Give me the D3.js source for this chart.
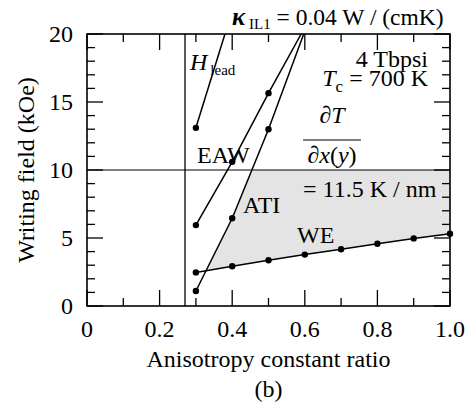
<!DOCTYPE html>
<html>
<head>
<meta charset="utf-8">
<script src="https://cdn.jsdelivr.net/npm/d3@7"></script>
<style>
  body { margin: 0; background: #fff; }
</style>
</head>
<body>
<div id="chart"></div>
<script>
const xTicks = [0, 0.2, 0.4, 0.6, 0.8, 1.0];
const xTickLabels = ['0', '0.2', '0.4', '0.6', '0.8', '1.0'];
const yTicks = [0, 5, 10, 15, 20];

// curves: measured points (dots) and the drawn line (runs past the top edge)
const headDots = [[0.3, 13.1]];
const headLine = [[0.3, 13.1], [0.38, 20]];
const eawDots = [[0.3, 5.95], [0.4, 10.6], [0.5, 15.65]];
const eawLine = [[0.3, 5.95], [0.4, 10.6], [0.5, 15.65], [0.59, 20]];
const atiDots = [[0.3, 1.1], [0.4, 6.45], [0.5, 13.0]];
const atiLine = [[0.3, 1.1], [0.4, 6.45], [0.5, 13.0], [0.597, 20]];
const weDots = [[0.3, 2.47], [0.4, 2.92], [0.5, 3.36], [0.6, 3.78], [0.7, 4.17], [0.8, 4.58], [0.9, 4.97], [1.0, 5.32]];
const vLine = 0.27;
const hLine = 10;

const W = 473, H = 403;
const M = { left: 87, top: 34, right: 23, bottom: 97 };
const iw = W - M.left - M.right, ih = H - M.top - M.bottom;
const FS = 24;

const svg = d3.select('#chart').append('svg').attr('width', W).attr('height', H);
const x = d3.scaleLinear().domain([0, 1]).range([M.left, M.left + iw]);
const y = d3.scaleLinear().domain([0, 20]).range([M.top + ih, M.top]);

svg.append('clipPath').attr('id', 'clip').append('rect')
  .attr('x', M.left).attr('y', M.top).attr('width', iw).attr('height', ih);
const plot = svg.append('g').attr('clip-path', 'url(#clip)');

// shaded window: right of ATI, above WE, below hLine
function interp(pts, xv) {
  for (let i = 0; i < pts.length - 1; i++) {
    const [x0, y0] = pts[i], [x1, y1] = pts[i + 1];
    if (xv >= x0 && xv <= x1) return y0 + (y1 - y0) * (xv - x0) / (x1 - x0);
  }
  return NaN;
}
function crossX(fn, lo, hi) {
  for (let k = 0; k < 60; k++) {
    const mid = (lo + hi) / 2;
    if (fn(lo) * fn(mid) <= 0) hi = mid; else lo = mid;
  }
  return (lo + hi) / 2;
}
const xStart = crossX(v => interp(atiLine, v) - interp(weDots, v), 0.3, 0.4);
const xTop = crossX(v => interp(atiLine, v) - hLine, 0.3, 0.597);
const poly = [[xStart, interp(weDots, xStart)]];
atiLine.forEach(p => { if (p[0] > xStart && p[0] < xTop) poly.push(p); });
poly.push([xTop, hLine], [1, hLine]);
weDots.slice().reverse().forEach(p => { if (p[0] > xStart) poly.push(p); });
plot.append('path').datum(poly)
  .attr('d', d3.line().x(d => x(d[0])).y(d => y(d[1])))
  .attr('fill', '#e4e4e4').attr('stroke', 'none');

// reference lines
plot.append('line').attr('x1', x(0)).attr('x2', x(1)).attr('y1', y(hLine)).attr('y2', y(hLine))
  .attr('stroke', '#000').attr('stroke-width', 1);
plot.append('line').attr('x1', x(vLine)).attr('x2', x(vLine)).attr('y1', y(0)).attr('y2', y(20))
  .attr('stroke', '#000').attr('stroke-width', 1.3);

const line = d3.line().x(d => x(d[0])).y(d => y(d[1]));
[headLine, eawLine, atiLine, weDots].forEach(s => {
  plot.append('path').datum(s).attr('d', line)
    .attr('fill', 'none').attr('stroke', '#000').attr('stroke-width', 1.5);
});
[].concat(headDots, eawDots, atiDots, weDots).forEach(d => {
  svg.append('circle').attr('cx', x(d[0])).attr('cy', y(d[1])).attr('r', 3.2).attr('fill', '#000');
});

// axes with inward ticks on all four sides
const minorX = d3.range(0, 11).map(i => i / 10), minorY = d3.range(0, 21);
const ax = svg.append('g').attr('stroke', '#000').attr('stroke-width', 1.3);
minorX.forEach((v, i) => {
  const len = i % 2 === 0 ? 16 : 8;
  ax.append('line').attr('x1', x(v)).attr('x2', x(v)).attr('y1', y(0)).attr('y2', y(0) - len);
  ax.append('line').attr('x1', x(v)).attr('x2', x(v)).attr('y1', y(20)).attr('y2', y(20) + len);
});
minorY.forEach(v => {
  const len = v % 5 === 0 ? 16 : 8;
  ax.append('line').attr('x1', x(0)).attr('x2', x(0) + len).attr('y1', y(v)).attr('y2', y(v));
  ax.append('line').attr('x1', x(1)).attr('x2', x(1) - len).attr('y1', y(v)).attr('y2', y(v));
});
svg.append('rect').attr('x', M.left).attr('y', M.top).attr('width', iw).attr('height', ih)
  .attr('fill', 'none').attr('stroke', '#000').attr('stroke-width', 1.6);

xTicks.forEach((v, i) => {
  svg.append('text').attr('x', x(v)).attr('y', y(0) + 31).attr('text-anchor', 'middle')
    .attr('font-size', FS).text(xTickLabels[i]);
});
yTicks.forEach(v => {
  svg.append('text').attr('x', M.left - 14).attr('y', y(v) + 8).attr('text-anchor', 'end')
    .attr('font-size', FS).text(v);
});

svg.append('text').attr('x', x(0.5)).attr('y', 367).attr('text-anchor', 'middle')
  .attr('font-size', FS).text('Anisotropy constant ratio');
svg.append('text').attr('x', x(0.5)).attr('y', 397).attr('text-anchor', 'middle')
  .attr('font-size', FS).text('(b)');
svg.append('text').attr('transform', `translate(34,${(M.top + M.top + ih) / 2}) rotate(-90)`)
  .attr('text-anchor', 'middle').attr('font-size', FS).text('Writing field (kOe)');

// annotations
const t1 = svg.append('text').attr('x', 232).attr('y', 25).attr('font-size', 23.5);
t1.append('tspan').attr('font-weight', 'bold').attr('font-style', 'italic').attr('font-size', 25).text('κ');
t1.append('tspan').attr('font-size', 15).attr('dy', 4).text(' IL1');
t1.append('tspan').attr('dy', -4).text(' = 0.04 W / (cmK)');

const th = svg.append('text').attr('x', 190).attr('y', 70).attr('font-size', FS);
th.append('tspan').attr('font-style', 'italic').text('H');
th.append('tspan').attr('font-size', 15).attr('dx', 3).attr('dy', 5).text('lead');

svg.append('text').attr('x', 197).attr('y', 163).attr('font-size', FS).text('EAW');
svg.append('text').attr('x', 243).attr('y', 213).attr('font-size', FS).text('ATI');
svg.append('text').attr('x', 297).attr('y', 243).attr('font-size', FS).text('WE');

svg.append('text').attr('x', 428).attr('y', 67).attr('text-anchor', 'end').attr('font-size', FS).text('4 Tbpsi');
const tc = svg.append('text').attr('x', 428).attr('y', 86).attr('text-anchor', 'end').attr('font-size', FS);
tc.append('tspan').attr('font-style', 'italic').text('T');
tc.append('tspan').attr('font-size', 17).attr('dy', 6).text('c');
tc.append('tspan').attr('dy', -6).text(' = 700 K');

const fx = 332;
const f1 = svg.append('text').attr('x', fx).attr('y', 123).attr('text-anchor', 'middle').attr('font-size', FS);
f1.append('tspan').text('∂');
f1.append('tspan').attr('font-style', 'italic').text('T');
svg.append('line').attr('x1', 303).attr('x2', 361).attr('y1', 140).attr('y2', 140)
  .attr('stroke', '#000').attr('stroke-width', 1.2);
const f2 = svg.append('text').attr('x', fx).attr('y', 163).attr('text-anchor', 'middle').attr('font-size', FS);
f2.append('tspan').text('∂');
f2.append('tspan').attr('font-style', 'italic').text('x');
f2.append('tspan').text('(');
f2.append('tspan').attr('font-style', 'italic').text('y');
f2.append('tspan').text(')');
svg.append('text').attr('x', 303).attr('y', 197).attr('font-size', FS).text('= 11.5 K / nm');

svg.selectAll('text').attr('font-family', 'Liberation Serif');
</script>
</body>
</html>
